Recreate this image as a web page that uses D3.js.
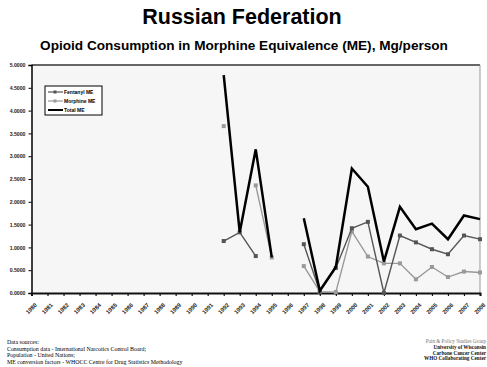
<!DOCTYPE html>
<html>
<head>
<meta charset="utf-8">
<script src="https://cdn.jsdelivr.net/npm/d3@7"></script>
<style>
  body { margin: 0; background: #fff; }
  svg text { font-family: Arial, "Liberation Sans", sans-serif; }
</style>
</head>
<body>
<div id="chart-area"></div>
<script>

// Data (Mg/person, ME) - null where no value reported
let years = d3.range(1980, 2009);
let yTicks = [0, 0.5, 1, 1.5, 2, 2.5, 3, 3.5, 4, 4.5, 5];

let fentanyl = [null, null, null, null, null, null, null, null, null, null, null, null,
    1.14, 1.33, 0.81, null, null,
    1.07, 0.03, 0.55, 1.42, 1.56, 0.00, 1.26, 1.11, 0.96, 0.85, 1.26, 1.18];
let morphine = [null, null, null, null, null, null, null, null, null, null, null, null,
    3.66, null, 2.36, 0.78, null,
    0.59, 0.03, 0.02, 1.35, 0.80, 0.65, 0.65, 0.30, 0.57, 0.35, 0.47, 0.45];
let total = [null, null, null, null, null, null, null, null, null, null, null, null,
    4.78, 1.33, 3.15, 0.78, null,
    1.64, 0.05, 0.57, 2.73, 2.33, 0.69, 1.89, 1.40, 1.52, 1.18, 1.70, 1.62];

let seriesNames = ["Fentanyl ME", "Morphine ME", "Total ME"];

let width = 487, height = 367;
let plot = {left: 31.5, right: 480, top: 65, bottom: 293};

let svg = d3.select("#chart-area").append("svg")
    .attr("width", width)
    .attr("height", height);

// Titles
svg.append("text")
    .attr("x", 242).attr("y", 24)
    .attr("text-anchor", "middle")
    .style("font-size", "21.5px").style("font-weight", "bold")
    .text("Russian Federation");

svg.append("text")
    .attr("x", 244).attr("y", 50)
    .attr("text-anchor", "middle")
    .style("font-size", "13.6px").style("font-weight", "bold")
    .text("Opioid Consumption in Morphine Equivalence (ME), Mg/person");

// Scales
let x = d3.scalePoint()
    .domain(years)
    .range([plot.left, plot.right]);

let y = d3.scaleLinear()
    .domain([0, 5])
    .range([plot.bottom, plot.top]);

// Plot background
svg.append("rect")
    .attr("x", plot.left).attr("y", plot.top)
    .attr("width", plot.right - plot.left)
    .attr("height", plot.bottom - plot.top)
    .attr("fill", "#f6f6f6")
    .attr("stroke", "none");

// top + right border
svg.append("line")
    .attr("x1", plot.left).attr("x2", plot.right)
    .attr("y1", plot.top).attr("y2", plot.top)
    .attr("stroke", "#666").attr("stroke-width", 2);
svg.append("line")
    .attr("x1", plot.right).attr("x2", plot.right)
    .attr("y1", plot.top).attr("y2", plot.bottom)
    .attr("stroke", "#999").attr("stroke-width", 1);

// Axes
let yAxis = d3.axisLeft(y)
    .tickValues(yTicks)
    .tickFormat(d3.format(".4f"))
    .tickSize(3)
    .tickPadding(3);

let yAxisGroup = svg.append("g")
    .attr("class", "y-axis axis")
    .attr("transform", "translate(" + plot.left + ",0)")
    .call(yAxis);

yAxisGroup.select(".domain").attr("stroke", "#000").attr("stroke-width", 1.5);
yAxisGroup.selectAll("text")
    .style("font-size", "5.2px").style("font-weight", "bold").attr("fill", "#222");

let xAxis = d3.axisBottom(x)
    .tickSize(3)
    .tickPadding(4);

let xAxisGroup = svg.append("g")
    .attr("class", "x-axis axis")
    .attr("transform", "translate(0," + plot.bottom + ")")
    .call(xAxis);

xAxisGroup.select(".domain").attr("stroke", "#111").attr("stroke-width", 2);
xAxisGroup.selectAll(".tick line").attr("stroke", "#111").attr("stroke-width", 1.2);
xAxisGroup.selectAll("text")
    .style("font-size", "5.8px").style("font-weight", "bold").attr("fill", "#222")
    .attr("text-anchor", "end")
    .attr("dy", "0.35em")
    .attr("transform", "translate(-1,6) rotate(-45)");

// Lines
let line = d3.line()
    .defined(d => d.v !== null)
    .x(d => x(d.year))
    .y(d => y(d.v));

function pts(arr) {
    return years.map((yr, i) => ({year: yr, v: arr[i]}));
}

let series = [
    {name: seriesNames[0], data: pts(fentanyl), color: "#555", width: 1.4, marker: true},
    {name: seriesNames[1], data: pts(morphine), color: "#999", width: 1.4, marker: true},
    {name: seriesNames[2], data: pts(total), color: "#000", width: 2.5, marker: false}
];

// draw morphine first, then fentanyl, then total on top
[series[1], series[0], series[2]].forEach(s => {
    svg.append("path")
        .datum(s.data)
        .attr("d", line)
        .attr("fill", "none")
        .attr("stroke", s.color)
        .attr("stroke-width", s.width)
        .attr("stroke-linejoin", "miter");

    if (s.marker) {
        svg.selectAll(null)
            .data(s.data.filter(d => d.v !== null))
            .enter().append("rect")
            .attr("x", d => x(d.year) - 2)
            .attr("y", d => y(d.v) - 2)
            .attr("width", 4).attr("height", 4)
            .attr("fill", s.color);
    }
});

// Legend
let legend = svg.append("g").attr("transform", "translate(45,86)");
legend.append("rect")
    .attr("width", 57).attr("height", 29)
    .attr("fill", "#fff").attr("stroke", "#000").attr("stroke-width", 1);

series.forEach((s, i) => {
    let g = legend.append("g").attr("transform", "translate(0," + (6 + i * 9) + ")");
    g.append("line")
        .attr("x1", 3).attr("x2", 18)
        .attr("stroke", s.color).attr("stroke-width", s.marker ? 1.2 : 2);
    if (s.marker) {
        g.append("rect").attr("x", 8.5).attr("y", -1.5).attr("width", 3).attr("height", 3).attr("fill", s.color);
    }
    g.append("text")
        .attr("x", 19).attr("dy", "0.35em")
        .style("font-size", "5px").style("font-weight", "bold")
        .text(s.name);
});

// Footer
let left = ["Data sources:",
    "Consumption data - International Narcotics Control Board;",
    "Population - United Nations;",
    "ME conversion factors - WHOCC Centre for Drug Statistics Methodology"];
svg.selectAll(".src").data(left).enter().append("text")
    .attr("class", "src")
    .attr("x", 7)
    .attr("y", (d, i) => 344 + i * 6.6)
    .style("font-family", "'Liberation Serif', 'DejaVu Serif', serif")
    .style("font-size", "5.9px")
    .attr("fill", "#000")
    .text(d => d);

let right = ["Pain & Policy Studies Group", "University of Wisconsin",
    "Carbone Cancer Center", "WHO Collaborating Center"];
svg.selectAll(".org").data(right).enter().append("text")
    .attr("class", "org")
    .attr("x", 486)
    .attr("y", (d, i) => 343 + i * 5.8)
    .attr("text-anchor", "end")
    .style("font-family", "'Liberation Serif', 'DejaVu Serif', serif")
    .style("font-size", "5.2px")
    .style("font-weight", (d, i) => i === 0 ? "normal" : "bold")
    .attr("fill", (d, i) => i === 0 ? "#777" : "#111")
    .text(d => d);

</script>
</body>
</html>
